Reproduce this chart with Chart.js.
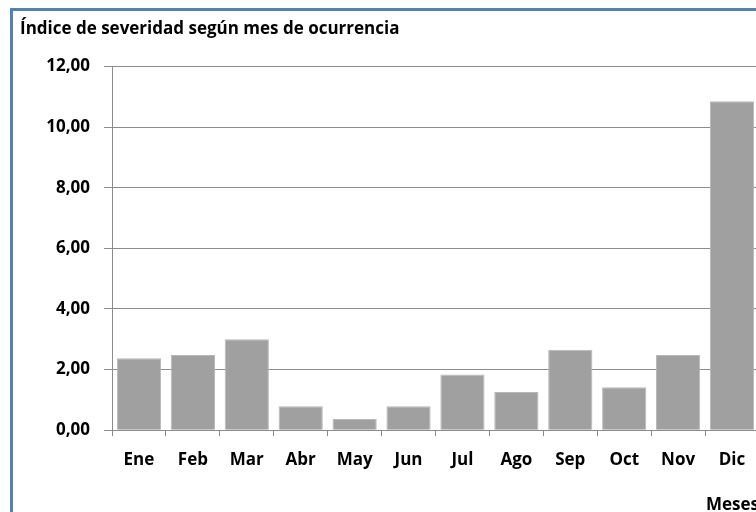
<!DOCTYPE html>
<html>
<head>
<meta charset="utf-8">
<script src="https://cdn.jsdelivr.net/npm/chart.js@4"></script>
<style>
  html, body { margin: 0; padding: 0; overflow: hidden; background: #fff; }
  #frame {
    position: absolute; left: 10px; top: 8px;
    width: 790px; height: 540px;
    border: 3px solid #4f81bd;
    background: #fff;
  }
  #wrap { position: relative; width: 748px; height: 504px; }
</style>
</head>
<body>
<div id="frame">
  <div id="wrap"><canvas id="chartOne"></canvas></div>
</div>
<script>
"use strict";

let meses = ["Ene", "Feb", "Mar", "Abr", "May", "Jun", "Jul", "Ago", "Sep", "Oct", "Nov", "Dic"];
let severidad = [2.37, 2.48, 3.0, 0.79, 0.37, 0.79, 1.84, 1.26, 2.65, 1.42, 2.48, 10.85];
let yTicks = [0, 2, 4, 6, 8, 10, 12];

let fontFam = "'Open Sans', 'Noto Sans', sans-serif";

let ctxOne = document.getElementById("chartOne").getContext("2d");
let chartOne = new Chart(ctxOne, {
  type: "bar",
  data: {
    labels: meses,
    datasets: [
      {
        label: "Índice de severidad",
        data: severidad,
        backgroundColor: "#a0a0a0",
        borderColor: "#b8b8b8",
        borderWidth: 1,
        barPercentage: 0.82,
        categoryPercentage: 1,
      },
    ],
  },
  options: {
    responsive: true,
    maintainAspectRatio: false,
    animation: false,
    layout: { padding: { left: 7, right: 2, top: 0, bottom: 0 } },
    plugins: {
      legend: { display: false },
      tooltip: { enabled: false },
      title: {
        display: true,
        text: "Índice de severidad según mes de ocurrencia",
        align: "start",
        color: "#000",
        font: { family: fontFam, size: 17, weight: "bold" },
        padding: { top: 8, bottom: 27 },
      },
    },
    scales: {
      x: {
        grid: {
          display: true,
          offset: true,
          drawOnChartArea: false,
          tickLength: 6,
          color: "#8c8c8c",
        },
        border: { display: true, color: "#8c8c8c" },
        ticks: {
          color: "#000",
          font: { family: fontFam, size: 17, weight: "bold" },
          padding: 14,
          maxRotation: 0,
        },
        title: {
          display: true,
          text: "Meses",
          align: "end",
          color: "#000",
          font: { family: fontFam, size: 17, weight: "bold" },
          padding: { top: 10, bottom: 0 },
        },
      },
      y: {
        min: 0,
        max: 12,
        afterFit: function (scale) {
          scale.width = 92;
        },
        afterBuildTicks: function (scale) {
          scale.ticks = yTicks.map(function (v) { return { value: v }; });
        },
        grid: {
          color: "#8c8c8c",
          lineWidth: 1,
          tickLength: 8,
        },
        border: { display: true, color: "#8c8c8c" },
        ticks: {
          color: "#000",
          font: { family: fontFam, size: 17, weight: "bold" },
          padding: 14,
          callback: function (v) {
            return v.toFixed(2).replace(".", ",");
          },
        },
      },
    },
  },
});
</script>
</body>
</html>
